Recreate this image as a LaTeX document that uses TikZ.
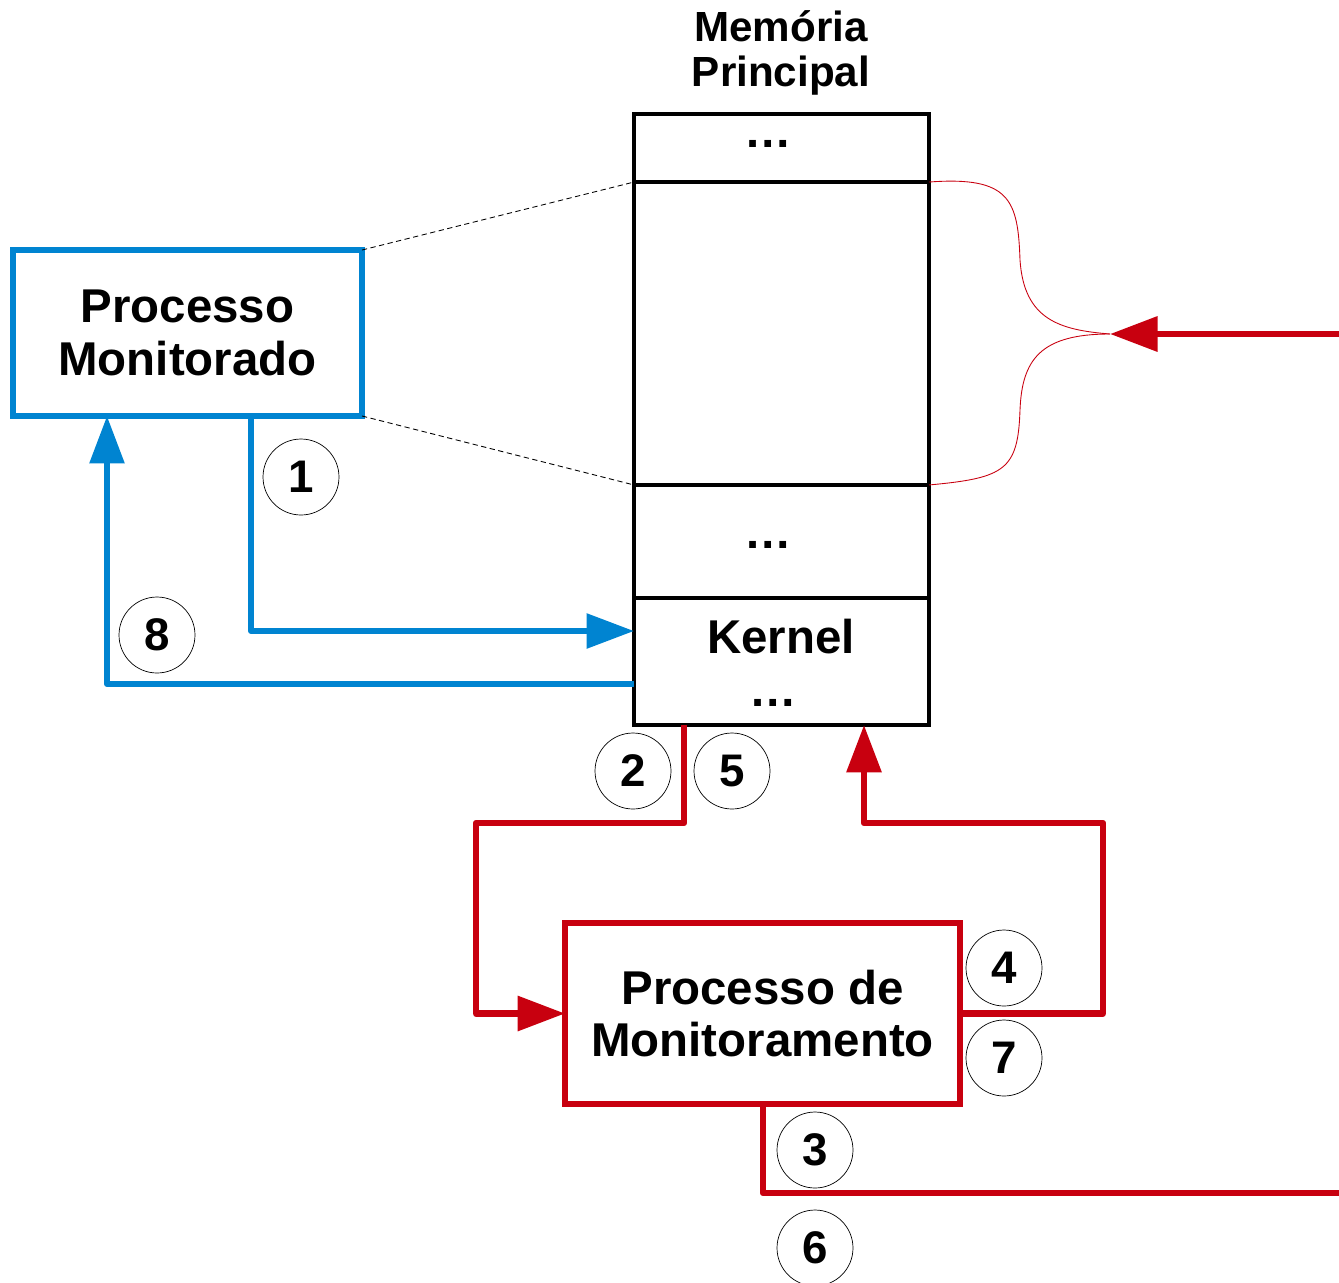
\documentclass[tikz,border=0pt]{standalone}
\usepackage{fontspec}
\setmainfont{Liberation Sans}
\usetikzlibrary{arrows.meta,calc}

\definecolor{monblue}{RGB}{0,132,209}
\definecolor{monred}{RGB}{200,0,15}

\tikzset{
  memrow/.style = {draw=black, line width=2pt, minimum width=5.9cm, outer sep=0pt, inner sep=0pt},
  procbox/.style = {draw, line width=3.2pt, align=center, font=\bfseries\fontsize{27}{30}\selectfont, outer sep=0pt, inner sep=0pt},
  numcirc/.style = {draw, circle, thin, minimum size=1.52cm, inner sep=0pt, font=\bfseries\fontsize{26}{26}\selectfont},
  bigtext/.style = {font=\bfseries\fontsize{27}{30}\selectfont},
}
\tikzstyle{bluearrow} = [monblue, line width=3.4pt, line join=round, -{Triangle[length=0.95cm, width=0.68cm]}]
\tikzstyle{redarrow} = [monred, line width=3.7pt, line join=round, -{Triangle[length=0.95cm, width=0.68cm]}]
\tikzstyle{redline} = [monred, line width=3.7pt, line join=round]

\begin{document}
\begin{tikzpicture}[x=0.02cm, y=-0.02cm]
\useasboundingbox (0,0) rectangle (1339,1282);

% main memory column
\node [align=center, font=\bfseries\fontsize{24}{26}\selectfont] (memtitle) at (781,53) {Memória\\Principal};
\node [memrow, minimum height=1.36cm] (memtop) at (781.5,148) {};
\node [memrow, minimum height=6.06cm] (memproc) at (781.5,333.5) {};
\node [memrow, minimum height=2.26cm] (memmid) at (781.5,541.5) {};
\node [memrow, minimum height=2.54cm] (memkern) at (781.5,661.5) {};
\node [bigtext] (dotstop) at (768,144) {…};
\node [bigtext] (dotsmid) at (768,545) {…};
\node [bigtext] (kernlabel) at (781,637) {Kernel};
\node [bigtext] (dotskern) at (773,703) {…};

% the two processes
\node [procbox, draw=monblue, minimum width=6.98cm, minimum height=3.32cm] (monitorado) at (187.5,333) {Processo\\Monitorado};
\node [procbox, draw=monred, minimum width=7.9cm, minimum height=3.62cm] (monitoramento) at (762.5,1013.5) {Processo de\\Monitoramento};

% image of the monitored process in memory
\draw [densely dashed, line width=0.5pt] (monitorado.north east) -- (memproc.north west);
\draw [densely dashed, line width=0.5pt] (monitorado.south east) -- (memproc.south west);

% bends of the connectors
\coordinate (b1) at (251,631);
\coordinate (b8) at (107,684);
\coordinate (r2) at (684,823);
\coordinate (r2l) at (476,823);
\coordinate (r4) at (1103,823);
\coordinate (r4k) at (864,823);
\coordinate (r3) at (763,1193);
\coordinate (r3e) at (1339,1193);
\coordinate (rin) at (1339,334);
\coordinate (brace) at (1110,334);

% blue: monitored process <-> kernel
\draw [bluearrow] (monitorado.south -| b1) |- (memkern.west |- b1);
\draw [bluearrow] (memkern.west |- b8) -| (monitorado.south -| b8);

% red: kernel <-> monitoring process
\draw [redarrow] (memkern.south -| r2) -- (r2) -- (r2l) |- (monitoramento.west);
\draw [redarrow] (monitoramento.east) -| (r4) -- (r4k) -- (memkern.south -| r4k);
\draw [redline] (monitoramento.south -| r3) |- (r3e);
\draw [redarrow] (rin) -- (brace);

% brace over the process area
\draw [monred, line width=0.5pt] (memproc.north east) .. controls (1010,176) and (1018,200) .. (1020,260)
  .. controls (1024,320) and (1060,330) .. (brace);
\draw [monred, line width=0.5pt] (brace) .. controls (1040,334) and (1022,360) .. (1020,410)
  .. controls (1018,470) and (1005,478) .. (memproc.south east);

% step numbers
\node [numcirc] (n1) at (301,477) {1};
\node [numcirc] (n8) at (157,635) {8};
\node [numcirc] (n2) at (633,771) {2};
\node [numcirc] (n5) at (732,771) {5};
\node [numcirc] (n4) at (1004,968) {4};
\node [numcirc] (n7) at (1004,1058) {7};
\node [numcirc] (n3) at (815,1150) {3};
\node [numcirc] (n6) at (815,1248) {6};

\end{tikzpicture}
\end{document}
